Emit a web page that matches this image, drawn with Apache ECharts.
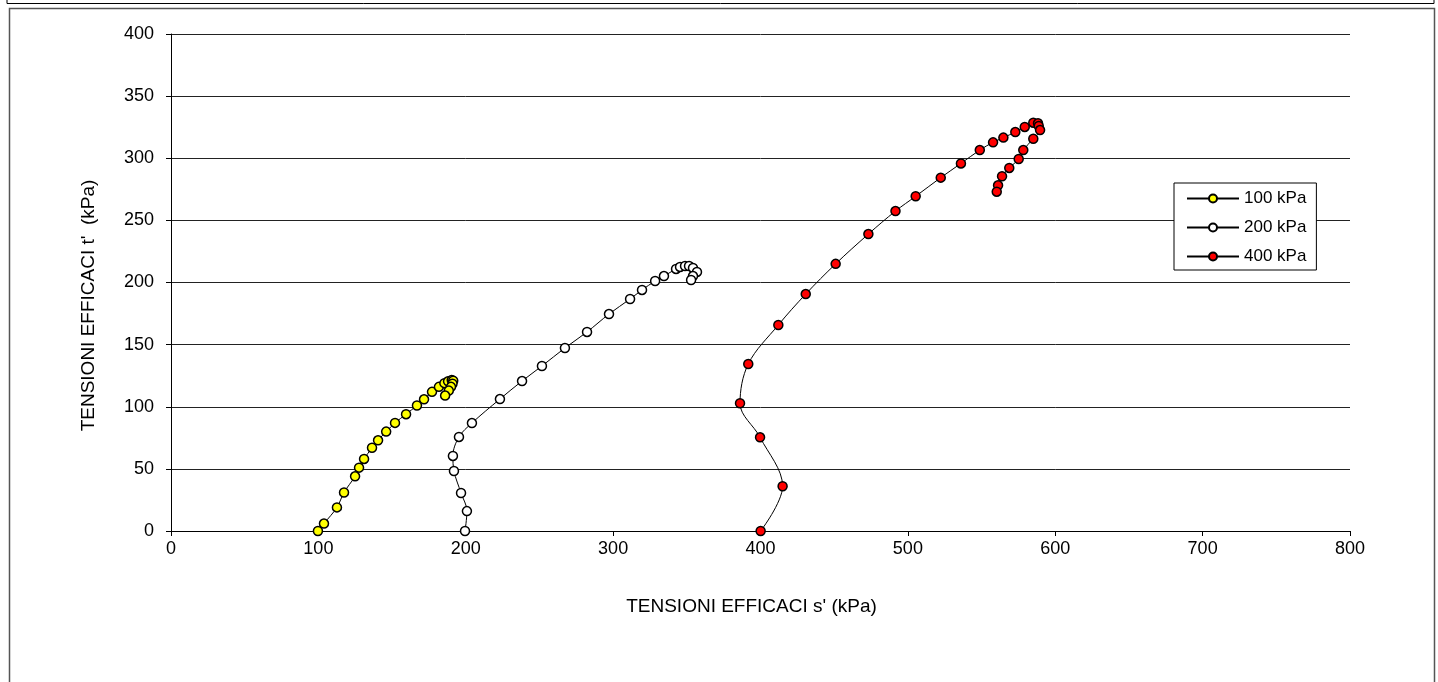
<!DOCTYPE html>
<html>
<head>
<meta charset="utf-8">
<script src="https://cdn.jsdelivr.net/npm/echarts@6/dist/echarts.min.js"></script>
<style>
html,body{margin:0;padding:0;background:#fff;}
#chart{width:1438px;height:682px;}
</style>
</head>
<body>
<div id="chart"></div>
<script>
const xTicks = [0, 100, 200, 300, 400, 500, 600, 700, 800];
const yTicks = [0, 50, 100, 150, 200, 250, 300, 350, 400];
const seriesNames = ['100 kPa', '200 kPa', '400 kPa'];

const s100 = [[99.7,0],[103.8,6],[112.6,19],[117.4,31],[124.9,44],[127.6,51],[131,58],[136.4,67],[140.5,73],[146,80],[152,87],[159.5,94],[166.9,101],[171.7,106],[177.1,112],[181.8,116],[185.5,119],[188,120.5],[190.5,121.5],[191.5,121],[191,118.5],[190,116],[188.5,113],[186,109]];

const s200 = [[199.5,0],[200.8,16],[196.8,30.6],[192,48.3],[191.3,60.4],[195.4,75.7],[204.2,86.9],[223.2,106.2],[238.2,120.7],[251.7,132.8],[267.3,147.3],[282.3,160.2],[297.2,174.6],[311.5,186.7],[319.6,194],[328.5,201.2],[334.5,205.2],[342.7,210.9],[345.4,212.5],[348.8,213.3],[351.5,213.3],[354.2,211.7],[356.9,208.5],[354.2,205.2],[352.9,202]];

const s400 = [[400.1,0],[415,36],[399.7,75.4],[386.1,102.8],[391.7,134.4],[412.1,165.8],[430.7,190.7],[451,215],[473.2,239],[491.6,257.5],[505.3,269.4],[522.3,284.4],[536,295.8],[548.8,306.6],[557.8,312.8],[564.8,316.6],[572.9,321.1],[579.3,325.2],[585.1,328.6],[588.3,328.1],[588.8,326],[589.7,322.7],[585.1,315.7],[578.3,306.6],[575.2,299.4],[568.8,292.2],[563.9,285.5],[561.2,278.2],[560.3,273.1]];

const colors = ['#ffff00', '#ffffff', '#ff0000'];
const dataSets = [s100, s200, s400];

const chart = echarts.init(document.getElementById('chart'), null, {renderer: 'canvas'});
const font = 'Liberation Sans, Arial, sans-serif';

chart.setOption({
  animation: false,
  backgroundColor: '#fff',
  grid: {left: 171, right: 88, top: 34, bottom: 151, containLabel: false},
  xAxis: {
    type: 'value', min: 0, max: 800, interval: 100,
    name: "TENSIONI EFFICACI s' (kPa)", nameLocation: 'middle', nameGap: 66,
    nameTextStyle: {fontFamily: font, fontSize: 19, color: '#000', padding: [0, 18, 0, 0]},
    axisLine: {show: true, onZero: false, lineStyle: {color: '#000', width: 1}},
    axisTick: {show: true, inside: false, length: 5, lineStyle: {color: '#000'}},
    axisLabel: {fontFamily: font, fontSize: 18, color: '#000', margin: 9},
    splitLine: {show: false}
  },
  yAxis: {
    type: 'value', min: 0, max: 400, interval: 50,
    name: "TENSIONI EFFICACI t'  (kPa)", nameLocation: 'middle', nameGap: 73, nameRotate: 90,
    nameTextStyle: {fontFamily: font, fontSize: 19, color: '#000', padding: [0, 46, 0, 0]},
    axisLine: {show: true, onZero: false, lineStyle: {color: '#000', width: 1}},
    axisTick: {show: true, inside: false, length: 5, lineStyle: {color: '#000'}},
    axisLabel: {fontFamily: font, fontSize: 18, color: '#000', margin: 17},
    splitLine: {show: true, lineStyle: {color: '#222', width: 1}}
  },
  legend: {
    show: true,
    orient: 'vertical',
    left: 1174, top: 183,
    width: 142,
    padding: [7, 10, 5, 12],
    itemGap: 12,
    itemWidth: 52, itemHeight: 10,
    borderColor: '#000', borderWidth: 1,
    backgroundColor: '#fff',
    textStyle: {fontFamily: font, fontSize: 17, color: '#000'},
    data: seriesNames
  },
  series: dataSets.map((d, i) => ({
    name: seriesNames[i],
    type: 'line',
    data: d,
    smooth: 0.35,
    symbol: 'circle',
    symbolSize: 9,
    showAllSymbol: true,
    lineStyle: {color: '#000', width: 1},
    itemStyle: {color: colors[i], borderColor: '#000', borderWidth: 1.5},
    z: 3 + i
  })),
  graphic: [
    {type: 'rect', shape: {x: 7, y: -10, width: 1427, height: 13.5}, style: {fill: 'none', stroke: '#000', lineWidth: 1}},
    {type: 'rect', shape: {x: 9.5, y: 8.5, width: 1425, height: 700}, style: {fill: 'none', stroke: '#555', lineWidth: 1.5}}
  ]
});
</script>
</body>
</html>
